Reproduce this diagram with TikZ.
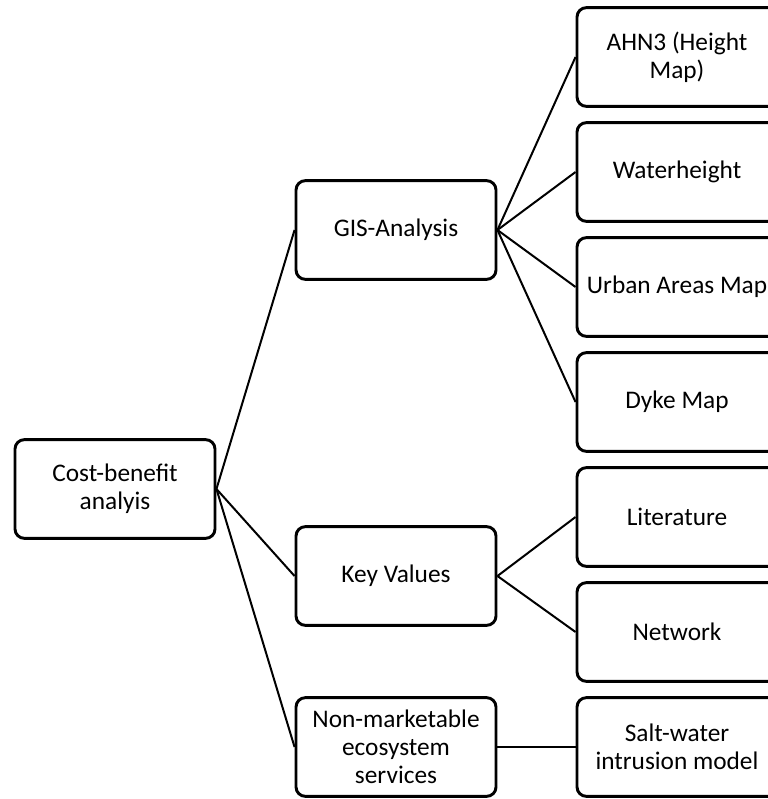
\documentclass[tikz,border=0pt]{standalone}
\usepackage{fontspec}
\setmainfont{Carlito}
\usepackage{tikz}

\begin{document}
\begin{tikzpicture}[x=0.75pt,y=-0.75pt]
      \tikzstyle{box}=[rectangle,rounded corners=7pt,draw=black,line width=2.2pt,minimum width=150pt,minimum height=74pt,align=center,inner sep=2pt,font=\fontsize{19}{21}\selectfont]
      \tikzstyle{edge}=[line width=1.5pt]
      \fill[white] (0,0) rectangle (767,799);
      \useasboundingbox (0,0) rectangle (767,799);
      \node[box] (cba) at (115,489) {Cost-benefit\\analyis};
      \node[box] (gis) at (396,230) {GIS-Analysis};
      \node[box] (key) at (396,576) {Key Values};
      \node[box] (nonm) at (396,747) {Non-marketable\\ecosystem\\services};
      \node[box] (ahn) at (677,57) {AHN3 (Height\\Map)};
      \node[box] (water) at (677,172) {Waterheight};
      \node[box] (urban) at (677,287) {Urban Areas Map};
      \node[box] (dyke) at (677,402) {Dyke Map};
      \node[box] (lit) at (677,517) {Literature};
      \node[box] (net) at (677,632) {Network};
      \node[box] (salt) at (677,747) {Salt-water\\intrusion model};
      \draw[edge] (cba.east) -- (gis.west);
      \draw[edge] (cba.east) -- (key.west);
      \draw[edge] (cba.east) -- (nonm.west);
      \draw[edge] (gis.east) -- (ahn.west);
      \draw[edge] (gis.east) -- (water.west);
      \draw[edge] (gis.east) -- (urban.west);
      \draw[edge] (gis.east) -- (dyke.west);
      \draw[edge] (key.east) -- (lit.west);
      \draw[edge] (key.east) -- (net.west);
      \draw[edge] (nonm.east) -- (salt.west);
    \end{tikzpicture}
\end{document}
